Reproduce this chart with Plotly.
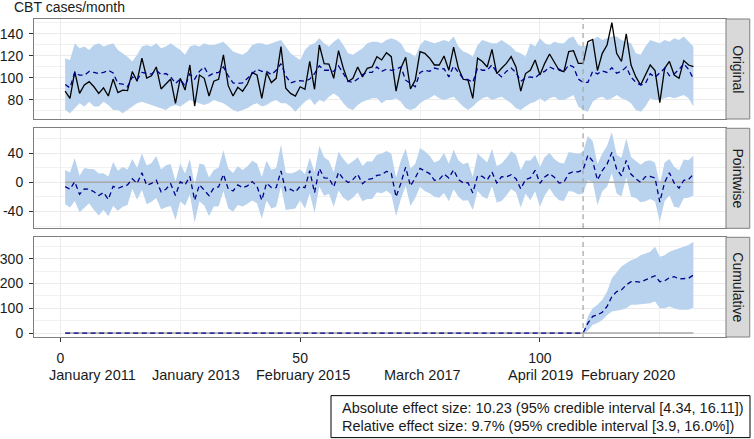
import plotly.graph_objects as go

# ---------------- data ----------------
observed = [88, 81.5, 105.8, 86, 93.6, 96.7, 92, 86, 91, 83.6,
            99, 86.7, 89, 88.5, 105.8, 97, 118, 100, 102, 110,
            90, 94.5, 99, 77, 99.7, 89, 111.8, 74.5, 102.7, 99.7,
            83.6, 97, 98.8, 121, 93, 83.6, 91.5, 88, 94.5, 105,
            102.7, 81.5, 105, 95.8, 99.7, 128.5, 90.6, 86, 83.6, 92,
            89.7, 115, 89.7, 130, 113, 112.7, 99.7, 124.8, 108.8, 96.7,
            99.7, 110, 101, 108.8, 110, 119.4, 116.4, 123, 119.4, 88,
            108.8, 118.8, 90, 98, 124, 122.4, 118, 111.8, 111.8, 120,
            107, 128, 108.8, 98.8, 98, 81.5, 118, 115, 110, 126,
            104, 108.8, 113.3, 119.4, 110, 88, 104, 107, 116.4, 102.7,
            113.3, 121.8, 115, 107, 105.8, 124, 124.8, 113.3, 113.3, 133,
            135, 106.7, 122.4, 130, 150.3, 122.4, 115, 140, 111.8, 101,
            93.6, 102.7, 111.8, 106.7, 77.6, 108.8, 115, 102.7, 99.7, 115.8,
            111.8, 110.3]

predicted = [94, 91, 105, 102.5, 102.5, 106, 105, 104, 105, 107,
             104.5, 95, 94.5, 92, 101, 98.5, 105, 104, 103.5, 107,
             103, 104, 101, 95, 99, 92.5, 103.7, 99, 106, 110,
             102, 104.5, 105, 110, 102, 95.5, 95, 95.5, 99.5, 104,
             108, 106, 106, 103, 107, 113, 102, 95.5, 97, 97.5,
             97, 99, 104, 111, 107, 107, 106, 111, 104, 97,
             96, 99, 103, 105, 105, 110, 106, 108, 107, 108,
             110, 98, 95, 92, 105, 107, 106, 109, 108, 108.5,
             101, 111, 105, 99.5, 98.5, 96, 109, 107, 107, 112,
             105, 101, 106, 109, 105, 97, 100, 101, 100, 104,
             106, 110, 108, 108, 105.5, 112, 110, 99, 96, 96,
             106, 103.7, 106.4, 105, 109.3, 104.4, 106, 110, 100.8, 96,
             93.6, 95, 103.8, 100.7, 104.6, 108.8, 102, 103.7, 107.7, 113,
             107.8, 99.3]

pred_upper = [118, 116, 131.5, 127, 128.5, 125.5, 130, 131.5, 128.5, 130,
              131.5, 125.5, 122.4, 119.4, 115, 121, 128.5, 130, 128.5, 131.5,
              127, 128.5, 131.5, 128.5, 125.5, 121, 128.5, 130, 128.5, 131.5,
              130, 130, 131.5, 133, 128.5, 124, 122.4, 121, 124, 130,
              131.5, 131.5, 130, 131.5, 133, 134.5, 128.5, 122.4, 119.4, 116.4,
              125.5, 130, 131.5, 136, 131.5, 128.5, 133, 136, 130, 122.4,
              121, 124, 127, 131.5, 133, 133, 131.5, 134.5, 136, 134.5,
              131.5, 124, 122.4, 119.4, 130, 134.5, 133, 131.5, 133, 134.5,
              133, 137.6, 128.5, 124, 122.4, 119.4, 130, 134.5, 133, 131.5,
              131.5, 134.5, 131.5, 128.5, 124, 122.4, 119.4, 131.5, 128.5, 136,
              131.5, 130, 133, 131.5, 131.5, 136, 137.6, 130, 128.5, 130,
              134.5, 137.6, 134.5, 136, 137.6, 137.6, 134.5, 133, 131.5, 122.4,
              121, 128.5, 134.5, 133, 131.5, 134.5, 133, 136, 134.5, 137.6,
              133, 128.5]

pred_lower = [71, 68, 72.4, 77, 74, 78.5, 74, 74, 78.5, 75.5,
              71, 71, 68, 71, 74, 77, 78.5, 77, 75.5, 74,
              72.4, 71, 74, 75.5, 74, 77, 80, 78.5, 77, 75.5,
              77, 80, 78.5, 77, 74, 71, 69.4, 71, 72.4, 75.5,
              77, 74, 75.5, 78.5, 80, 77, 77, 74, 69.4, 74,
              78.5, 81.5, 75.5, 80, 78.5, 83, 86, 83, 77, 72.4,
              71, 75.5, 78.5, 80, 81.5, 81.5, 77, 80, 80, 81.5,
              78.5, 72.4, 71, 72.4, 77, 80, 81.5, 84.5, 81.5, 80,
              81.5, 83, 78.5, 74, 71, 74, 78.5, 81.5, 83, 80,
              81.5, 83, 80, 77, 72.4, 71, 74, 77, 78.5, 81.5,
              78.5, 81.5, 83, 80, 80, 82.4, 84.5, 74, 71, 69.4,
              78.5, 81.5, 83, 80, 81.5, 84.5, 81.5, 80, 77, 71,
              69.4, 74, 81.5, 80, 80, 81.5, 83, 81.5, 83, 84.5,
              81.5, 74]

n_pre = 109  # last pre-intervention month (January 2020)

cum_mean_post = [40, 67, 73, 84, 107, 147, 167, 174, 194, 207, 207, 205,
                 214, 221, 231, 207, 210, 223, 227, 218, 218, 221, 234]
cum_lower_post = [9, 33, 40, 53, 73, 87, 90, 94, 100, 114, 114, 116,
                  120, 120, 127, 100, 100, 107, 100, 94, 94, 94, 103]
cum_upper_post = [67, 100, 114, 134, 167, 221, 247, 268, 281, 294, 301, 314,
                  321, 328, 348, 308, 314, 328, 335, 341, 348, 355, 368]

x_ticks = [0, 50, 100]
date_labels = ["January 2011", "January 2013", "February 2015",
               "March 2017", "April 2019", "February 2020"]
date_label_pos = [6.8, 28.2, 50.6, 75.5, 100.1, 118.3]
panel_names = ["Original", "Pointwise", "Cumulative"]
y1_ticks = [80, 100, 120, 140]
y2_ticks = [-40, 0, 40]
y3_ticks = [0, 100, 200, 300]
title_text = "CBT cases/month"
effect_lines = ["Absolute effect size: 10.23 (95% credible interval [4.34, 16.11])",
                "Relative effect size: 9.7% (95% credible interval [3.9, 16.0%])"]

# ---------------- derived series ----------------
months = list(range(1, len(observed) + 1))
pointwise = [o - p for o, p in zip(observed, predicted)]
pw_lower = [o - u for o, u in zip(observed, pred_upper)]
pw_upper = [o - l for o, l in zip(observed, pred_lower)]
cum_x = months[n_pre - 1:]
cum_mean = [0.0] * n_pre + cum_mean_post
cum_band_lower = [0.0] + cum_lower_post
cum_band_upper = [0.0] + cum_upper_post
zero_x = [months[0], months[-1]]

# ---------------- style ----------------
FONT = "Liberation Sans, Arial, Helvetica, sans-serif"
BAND = "#B9D3EE"
PRED = "#00008B"
GREY = "#A9A9A9"
TXT = "#1a1a1a"
BORDER = "#7f7f7f"
DASH = "5px,3.5px"

fig = go.Figure()


def add_band(x, lo, hi, xa, ya):
    fig.add_trace(go.Scatter(x=x, y=lo, mode="lines", line=dict(width=0),
                             xaxis=xa, yaxis=ya, hoverinfo="skip", showlegend=False))
    fig.add_trace(go.Scatter(x=x, y=hi, mode="lines", line=dict(width=0),
                             fill="tonexty", fillcolor=BAND,
                             xaxis=xa, yaxis=ya, hoverinfo="skip", showlegend=False))


# Panel 1: original
add_band(months, pred_lower, pred_upper, "x", "y")
fig.add_trace(go.Scatter(x=months, y=observed, mode="lines",
                         line=dict(color="black", width=1.3),
                         xaxis="x", yaxis="y", showlegend=False))
fig.add_trace(go.Scatter(x=months, y=predicted, mode="lines",
                         line=dict(color=PRED, width=1.3, dash=DASH),
                         xaxis="x", yaxis="y", showlegend=False))

# Panel 2: pointwise
add_band(months, pw_lower, pw_upper, "x2", "y2")
fig.add_trace(go.Scatter(x=zero_x, y=[0, 0], mode="lines",
                         line=dict(color=GREY, width=1.6),
                         xaxis="x2", yaxis="y2", showlegend=False))
fig.add_trace(go.Scatter(x=months, y=pointwise, mode="lines",
                         line=dict(color=PRED, width=1.3, dash=DASH),
                         xaxis="x2", yaxis="y2", showlegend=False))

# Panel 3: cumulative
add_band(cum_x, cum_band_lower, cum_band_upper, "x3", "y3")
fig.add_trace(go.Scatter(x=zero_x, y=[0, 0], mode="lines",
                         line=dict(color=GREY, width=1.6),
                         xaxis="x3", yaxis="y3", showlegend=False))
fig.add_trace(go.Scatter(x=months, y=cum_mean, mode="lines",
                         line=dict(color=PRED, width=1.3, dash=DASH),
                         xaxis="x3", yaxis="y3", showlegend=False))

# ---------------- layout ----------------
domains = [[0.6855, 1.0], [0.3418, 0.6563], [0.0, 0.3135]]
yranges = [[62.7, 153.6], [-63, 74], [-16, 386]]
yticks = [y1_ticks, y2_ticks, y3_ticks]
yminor = [10, 20, 50]
xrange_ = [-5.5, 138.8]

axis_common = dict(showline=True, mirror=True, linecolor=BORDER, linewidth=1,
                   gridcolor="#EBEBEB", gridwidth=1, zeroline=False,
                   automargin=False,
                   tickfont=dict(family=FONT, size=14, color=TXT),
                   tickcolor="#333333", ticklen=4, tickwidth=1)

layout = dict(width=754, height=439, margin=dict(l=34, r=28, t=19, b=102),
              paper_bgcolor="white", plot_bgcolor="white",
              font=dict(family=FONT, size=14, color=TXT), showlegend=False)

for k in range(3):
    sx = "" if k == 0 else str(k + 1)
    xa = dict(axis_common, domain=[0, 1], range=xrange_, anchor="y" + sx,
              tickmode="array", tickvals=x_ticks,
              ticktext=[str(t) for t in x_ticks],
              minor=dict(tickmode="linear", tick0=0, dtick=25, showgrid=True,
                         gridcolor="#F1F1F1", gridwidth=0.7, ticks=""))
    if k < 2:
        xa.update(showticklabels=False, ticks="")
    else:
        xa.update(ticks="outside", ticklabelstandoff=4)
    ya = dict(axis_common, domain=domains[k], range=yranges[k], anchor="x" + sx,
              tickmode="array", tickvals=yticks[k],
              ticktext=[str(t) for t in yticks[k]],
              ticks="outside", ticklabelstandoff=3,
              minor=dict(tickmode="linear", tick0=0, dtick=yminor[k], showgrid=True,
                         gridcolor="#F1F1F1", gridwidth=0.7, ticks=""))
    layout["xaxis" + sx] = xa
    layout["yaxis" + sx] = ya

fig.update_layout(**layout)

# intervention line
for k in range(3):
    sx = "" if k == 0 else str(k + 1)
    fig.add_shape(type="line", xref="x" + sx, yref="y" + sx + " domain",
                  x0=n_pre, x1=n_pre, y0=0, y1=1,
                  line=dict(color=GREY, width=1.3, dash="5px,4px"))

# facet strips
strip_x0, strip_x1 = 1.0, 1.0343
for k, name in enumerate(panel_names):
    d0, d1 = domains[k]
    fig.add_shape(type="rect", xref="paper", yref="paper",
                  x0=strip_x0, x1=strip_x1, y0=d0, y1=d1,
                  fillcolor="#D9D9D9", line=dict(color=BORDER, width=1))
    fig.add_annotation(xref="paper", yref="paper", x=(strip_x0 + strip_x1) / 2,
                       y=(d0 + d1) / 2, text=name, textangle=90, showarrow=False,
                       font=dict(family=FONT, size=14, color=TXT),
                       xanchor="center", yanchor="middle")

# y title at top-left
fig.add_annotation(xref="paper", yref="paper", x=-0.0318, y=1.0386,
                   text=title_text, showarrow=False, xanchor="left", yanchor="middle",
                   font=dict(family=FONT, size=14, color=TXT))

# date labels row
for pos, lab in zip(date_label_pos, date_labels):
    fig.add_annotation(xref="x3", yref="paper", x=pos, y=-0.1206, text=lab,
                       showarrow=False, xanchor="center", yanchor="middle",
                       font=dict(family=FONT, size=14.5, color=TXT))

# effect-size box
fig.add_shape(type="rect", xref="paper", yref="paper",
              x0=0.4292, x1=1.0347, y0=-0.3164, y1=-0.1844,
              line=dict(color="black", width=1), fillcolor="white")
for j, line in enumerate(effect_lines):
    fig.add_annotation(xref="paper", yref="paper", x=0.4422, y=-0.2221 - j * 0.0566,
                       text=line, showarrow=False, xanchor="left", yanchor="middle",
                       font=dict(family=FONT, size=14.5, color=TXT))

fig.write_html("out.html")
